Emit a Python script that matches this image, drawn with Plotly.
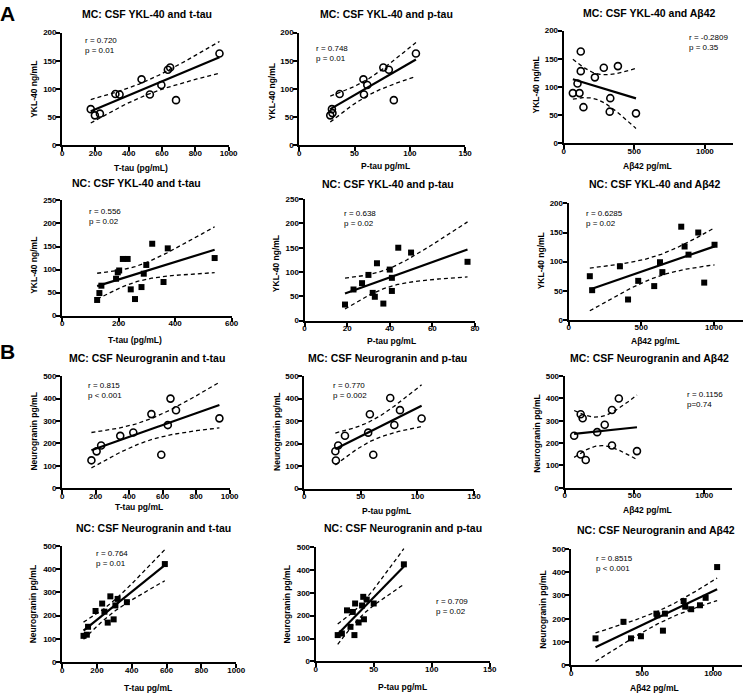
import numpy as np
import plotly.graph_objects as go

W, H = 753, 699
FONT = "Liberation Sans, Arial, Helvetica, sans-serif"

# ---------------- data ----------------
# Panel A, MC (open circles)
mc_ykl_ttau_x = [172, 197, 227, 320, 345, 477, 527, 596, 635, 649, 684, 945]
mc_ykl_ttau_y = [64, 53, 56, 91, 90, 117, 90, 107, 134, 138, 80, 163]

mc_ykl_ptau_x = [29.5, 28, 30, 36.5, 58, 58.5, 61.5, 76, 81, 85.5, 105.5]
mc_ykl_ptau_y = [64, 53, 57, 91, 117, 90, 107, 138, 134, 80, 163]

mc_ykl_ab_x = [65, 98, 112, 121, 121, 140, 221, 284, 330, 326, 384, 512]
mc_ykl_ab_y = [89, 106, 89, 163, 128, 64, 117, 134, 80, 56, 137, 53]

# Panel A, NC (filled squares)
nc_ykl_ttau_x = [124, 132, 139, 191, 197, 202, 215, 232, 243, 258, 281, 289, 298, 319, 359, 374, 540]
nc_ykl_ttau_y = [34, 49, 65, 80, 94, 98, 123, 123, 57, 36, 62, 91, 110, 156, 73, 146, 125]

nc_ykl_ptau_x = [19, 23, 27, 30, 32, 33, 34, 37, 40, 41, 41, 44, 50, 76.5]
nc_ykl_ptau_y = [33, 64, 77, 94, 57, 49, 118, 35, 105, 88, 61, 150, 140, 121]

nc_ykl_ab_x = [146, 162, 353, 409, 479, 589, 629, 645, 775, 798, 825, 892, 933, 1004]
nc_ykl_ab_y = [75, 51, 92, 35, 67, 58, 99, 82, 160, 126, 112, 150, 64, 129]

# Panel B, MC
mc_ng_ttau_x = [175, 206, 233, 347, 425, 533, 592, 631, 647, 680, 939]
mc_ng_ttau_y = [125, 165, 191, 234, 249, 331, 150, 282, 400, 348, 312]

mc_ng_ptau_x = [28, 27.5, 30, 36, 56.5, 58, 61, 76, 79.6, 84.6, 103.7]
mc_ng_ptau_y = [125, 166, 192, 235, 249, 331, 151, 403, 283, 349, 312]

mc_ng_ab_x = [68, 115, 129, 115, 151, 233, 287, 339, 339, 388, 518]
mc_ng_ab_y = [233, 329, 311, 149, 124, 249, 282, 348, 189, 400, 164]

# Panel B, NC
nc_ng_ttau_x = [123, 142, 149, 192, 230, 243, 262, 277, 296, 306, 319, 372, 590]
nc_ng_ttau_y = [113, 118, 152, 220, 252, 217, 170, 283, 184, 244, 272, 258, 422]

nc_ng_ptau_x = [19, 22.6, 27, 30, 32, 33.4, 34, 37, 40, 41, 41.6, 44, 50, 76]
nc_ng_ptau_y = [115, 122, 223, 151, 216, 115, 253, 170, 244, 282, 184, 270, 253, 424]

nc_ng_ab_x = [171, 368, 421, 491, 600, 606, 646, 660, 792, 803, 845, 907, 947, 1028]
nc_ng_ab_y = [116, 187, 116, 125, 222, 215, 149, 222, 276, 252, 241, 258, 290, 422]

titles = [
    "MC: CSF YKL-40 and t-tau", "MC: CSF YKL-40 and p-tau", "MC: CSF YKL-40 and Aβ42",
    "NC: CSF YKL-40 and t-tau", "NC: CSF YKL-40 and p-tau", "NC: CSF YKL-40 and Aβ42",
    "MC: CSF Neurogranin and t-tau", "MC: CSF Neurogranin and p-tau", "MC: CSF Neurogranin and Aβ42",
    "NC: CSF Neurogranin and t-tau", "NC: CSF Neurogranin and p-tau", "NC: CSF Neurogranin and Aβ42",
]
xlabels = ["T-tau (pg/mL)", "P-tau pg/mL", "Aβ42 pg/mL",
           "T-tau (pg/mL)", "P-tau pg/mL", "Aβ42 pg/mL",
           "T-tau pg/mL", "P-tau pg/mL", "Aβ42 pg/mL",
           "T-tau pg/mL", "P-tau pg/mL", "Aβ42 pg/mL"]
ylabels = ["YKL-40 ng/mL"] * 6 + ["Neurogranin pg/mL"] * 6
stats = [("r = 0.720", "p = 0.01"), ("r = 0.748", "p = 0.01"), ("r = -0.2809", "p = 0.35"),
         ("r = 0.556", "p = 0.02"), ("r = 0.638", "p = 0.02"), ("r = 0.6285", "p = 0.02"),
         ("r = 0.815", "p < 0.001"), ("r = 0.770", "p = 0.002"), ("r = 0.1156", "p=0.74"),
         ("r = 0.764", "p = 0.01"), ("r = 0.709", "p = 0.02"), ("r = 0.8515", "p < 0.001")]
xticks_t = [0, 200, 400, 600, 800, 1000]
xticks_t6 = [0, 200, 400, 600]
xticks_p = [0, 50, 100, 150]
xticks_p80 = [0, 20, 40, 60, 80]
xticks_a = [0, 500, 1000]
yticks_200 = [0, 50, 100, 150, 200]
yticks_250 = [0, 50, 100, 150, 200, 250]
yticks_500 = [0, 100, 200, 300, 400, 500]

data = [
    (mc_ykl_ttau_x, mc_ykl_ttau_y), (mc_ykl_ptau_x, mc_ykl_ptau_y), (mc_ykl_ab_x, mc_ykl_ab_y),
    (nc_ykl_ttau_x, nc_ykl_ttau_y), (nc_ykl_ptau_x, nc_ykl_ptau_y), (nc_ykl_ab_x, nc_ykl_ab_y),
    (mc_ng_ttau_x, mc_ng_ttau_y), (mc_ng_ptau_x, mc_ng_ptau_y), (mc_ng_ab_x, mc_ng_ab_y),
    (nc_ng_ttau_x, nc_ng_ttau_y), (nc_ng_ptau_x, nc_ng_ptau_y), (nc_ng_ab_x, nc_ng_ab_y),
]
xranges = [1000, 150, 1200, 600, 80, 1200, 1000, 150, 1200, 1000, 150, 1200]
xtickv = [xticks_t, xticks_p, xticks_a, xticks_t6, xticks_p80, xticks_a,
          xticks_t, xticks_p, xticks_a, xticks_t, xticks_p, xticks_a]
yranges = [200, 200, 200, 250, 250, 200, 500, 500, 500, 500, 500, 500]
ytickv = [yticks_200, yticks_200, yticks_200, yticks_250, yticks_250, yticks_200,
          yticks_500, yticks_500, yticks_500, yticks_500, yticks_500, yticks_500]

# ---------------- layout geometry (pixels) ----------------
boxes = [
    (61, 230, 29, 143), (301.7, 470, 29, 143), (570, 742, 27, 141),
    (61, 233, 199, 315.7), (307, 480, 197.7, 320.7), (575, 752, 202, 320),
    (61, 231, 377, 490.7), (306.7, 479, 377, 491), (571, 741, 377, 490),
    (61, 237.7, 549, 666.7), (318.3, 495, 550, 666), (577.7, 750.5, 552, 670),
]
title_pos = [(146.7, 10), (390, 10), (656.7, 9), (136.7, 181.3), (391.7, 182.3), (661.7, 182.3),
             (146.7, 358.3), (391.7, 358.3), (656.7, 358.3), (153.3, 531.3), (406.7, 531.3), (663.3, 533.3)]
xlab_pos = [(140.7, 165.7), (389.3, 164), (655, 164), (135, 340), (395, 341), (663, 341),
            (139.3, 510), (390.7, 513.3), (655, 512.7), (148.3, 693.3), (406.7, 691.7), (661.7, 693.3)]
ylab_pos = [(31.7, 86.7), (274, 88.3), (541.7, 81.7), (31.7, 265), (278.3, 263.3), (546.7, 260),
            (32.3, 433.3), (278.3, 433.3), (543.3, 435), (32.3, 608.3), (289.3, 608.3), (549.3, 613.3)]
# (left x, centre y of the two-line block)
stat_pos = [(83, 41.7), (318, 49.8), (696, 38.5), (87, 215.5), (345.7, 217.2),
            (591.7, 217.2), (86, 391.2), (335, 391.3), (694.3, 400.5),
            (94.3, 562.2), (439, 610.8), (601.7, 567)]
open_marker = [True, True, True, False, False, False, True, True, True, False, False, False]

T975 = {8: 2.306, 9: 2.262, 10: 2.228, 11: 2.201, 12: 2.179, 13: 2.160,
        14: 2.145, 15: 2.131, 16: 2.120, 17: 2.110, 18: 2.101}


def fit(x, y):
    x = np.asarray(x, float)
    y = np.asarray(y, float)
    n = len(x)
    b, a = np.polyfit(x, y, 1)
    xs = np.linspace(x.min(), x.max(), 150)
    yh = a + b * xs
    s = np.sqrt(((y - (a + b * x)) ** 2).sum() / (n - 2))
    sxx = ((x - x.mean()) ** 2).sum()
    se = s * np.sqrt(1.0 / n + (xs - x.mean()) ** 2 / sxx)
    t = T975[n - 2]
    return xs, yh, yh - t * se, yh + t * se


def px(x):
    return x / W


def py(y):
    return 1 - y / H


fig = go.Figure()
annotations = []
for i in range(12):
    k = i + 1
    xa = "x" if k == 1 else f"x{k}"
    ya = "y" if k == 1 else f"y{k}"
    x, y = data[i]
    xs, yh, lo, hi = fit(x, y)
    for yy, dash, w in ((lo, "4px,3px", 1.3), (hi, "4px,3px", 1.3), (yh, "solid", 2.2)):
        fig.add_trace(go.Scatter(x=xs, y=yy, mode="lines", xaxis=xa, yaxis=ya,
                                 line=dict(color="black", width=w, dash=dash),
                                 hoverinfo="skip", cliponaxis=False))
    if open_marker[i]:
        mk = dict(symbol="circle-open", size=7, color="black", line=dict(width=1.6, color="black"))
    else:
        mk = dict(symbol="square", size=6, color="black", line=dict(width=0))
    fig.add_trace(go.Scatter(x=x, y=y, mode="markers", xaxis=xa, yaxis=ya, marker=mk,
                             cliponaxis=False))

    l, r, t, b = boxes[i]
    axname = "xaxis" if k == 1 else f"xaxis{k}"
    ayname = "yaxis" if k == 1 else f"yaxis{k}"
    common = dict(showline=True, linecolor="black", linewidth=2, ticks="outside", ticklen=4,
                  tickwidth=2, tickcolor="black", showgrid=False, zeroline=False,
                  tickfont=dict(family=FONT, size=8, color="black", weight="bold"))
    fig.layout[axname] = dict(domain=[px(l), px(r)], range=[0, xranges[i]], tickvals=xtickv[i],
                              anchor=ya, ticklabelstandoff=-5, **common)
    fig.layout[ayname] = dict(domain=[py(b), py(t)], range=[0, yranges[i]], tickvals=ytickv[i],
                              anchor=xa, ticklabelstandoff=-2, **common)

    tx, ty = title_pos[i]
    annotations.append(dict(x=px(tx), y=py(ty), xref="paper", yref="paper", text=titles[i],
                            showarrow=False, xanchor="center", yanchor="middle",
                            font=dict(family=FONT, size=10.5, color="black", weight="bold")))
    lx, ly = xlab_pos[i]
    annotations.append(dict(x=px(lx), y=py(ly), xref="paper", yref="paper", text=xlabels[i],
                            showarrow=False, xanchor="center", yanchor="middle",
                            font=dict(family=FONT, size=8.5, color="black", weight="bold")))
    yx, yy_ = ylab_pos[i]
    annotations.append(dict(x=px(yx), y=py(yy_), xref="paper", yref="paper", text=ylabels[i],
                            showarrow=False, xanchor="center", yanchor="middle", textangle=-90,
                            font=dict(family=FONT, size=8.5, color="black", weight="bold")))
    sx, sy = stat_pos[i]
    annotations.append(dict(x=px(sx), y=py(sy), xref="paper", yref="paper",
                            text=stats[i][0] + "<br>" + stats[i][1], align="left",
                            showarrow=False, xanchor="left", yanchor="middle", borderpad=0,
                            font=dict(family=FONT, size=8, color="black")))

annotations.append(dict(x=px(-4), y=py(10), xref="paper", yref="paper", text="A", showarrow=False,
                        xanchor="left", yanchor="middle",
                        font=dict(family=FONT, size=21, color="black", weight="bold")))
annotations.append(dict(x=px(-4), y=py(352), xref="paper", yref="paper", text="B", showarrow=False,
                        xanchor="left", yanchor="middle",
                        font=dict(family=FONT, size=21, color="black", weight="bold")))

fig.update_layout(width=W, height=H, margin=dict(l=0, r=0, t=0, b=0),
                  plot_bgcolor="white", paper_bgcolor="white", showlegend=False,
                  annotations=annotations)
fig.write_html("out.html", config={"displayModeBar": False},
               post_script="document.body.style.margin='0';document.body.style.overflow='hidden';")
